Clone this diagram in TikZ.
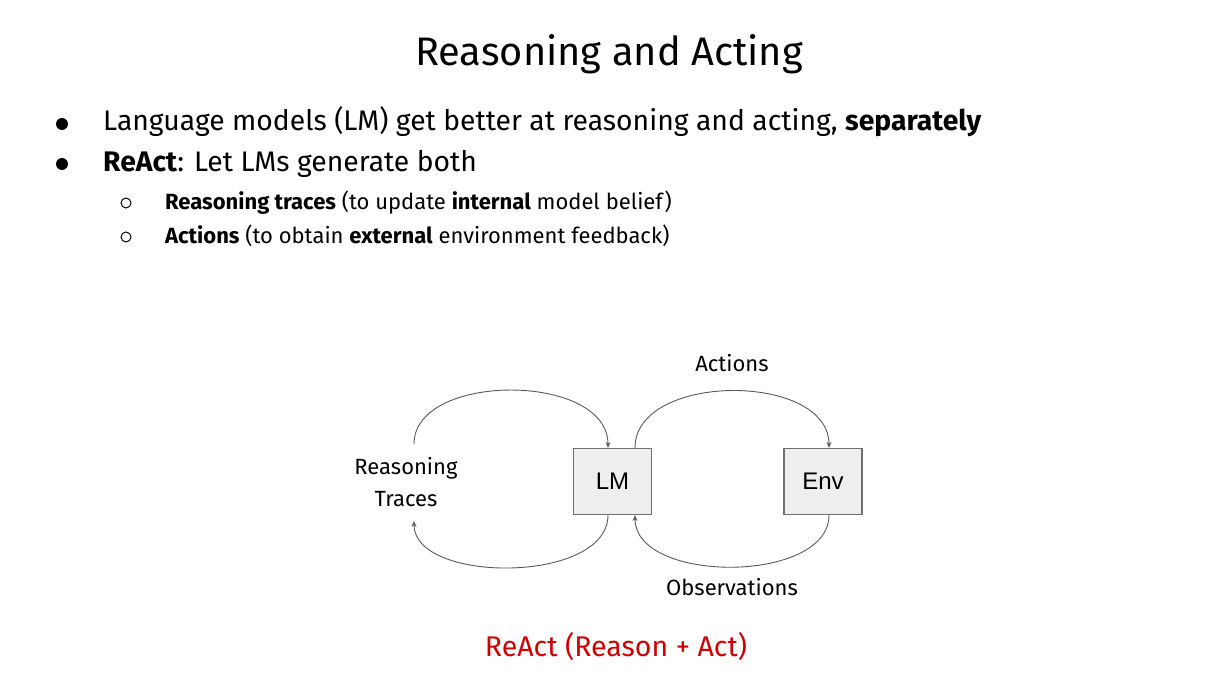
\documentclass[tikz,border=0pt]{standalone}
\usepackage{fontspec}
\setmainfont{Fira Sans}
\newfontfamily\arialf{Liberation Sans}
\usetikzlibrary{arrows.meta}
\definecolor{boxfill}{HTML}{EEEEEE}
\definecolor{boxline}{HTML}{707070}
\definecolor{arrowc}{HTML}{595959}
\definecolor{reactred}{HTML}{CC0000}
\begin{document}
\begin{tikzpicture}[x=1pt,y=-1pt,
  txt/.style={inner sep=0pt,anchor=base west,text=black},
  ctxt/.style={inner sep=0pt,anchor=base,text=black},
  lbl/.style={ctxt,font=\fontsize{22}{26}\selectfont},
  box/.style={draw=boxline,fill=boxfill,line width=1.2pt,minimum width=78pt,minimum height=66pt,inner sep=0pt,font=\arialf\fontsize{24}{28}\selectfont},
  loop/.style={draw=arrowc,line width=0.9pt,-{Stealth[length=6pt,width=5pt]}}]
\useasboundingbox (0,0) rectangle (1231,676);
% title
\node[ctxt,font=\fontsize{39.8}{46}\selectfont] (title) at (609,66) {Reasoning and Acting};
% bullets
\fill (62,124) circle (6pt);
\fill (62,164) circle (6pt);
\draw[line width=1pt] (126,203) circle (5pt);
\draw[line width=1pt] (126,237) circle (5pt);
\node[txt,font=\fontsize{28.3}{34}\selectfont] (b1) at (103,131) {Language models (LM) get better at reasoning and acting, \textbf{separately}};
\node[txt,font=\fontsize{28.3}{34}\selectfont] (b2) at (103,172) {\textbf{ReAct}: Let LMs generate both};
\node[txt,font=\fontsize{22}{26}\selectfont] (s1) at (165,210) {\textbf{Reasoning traces} (to update \textbf{internal} model belief)};
\node[txt,font=\fontsize{22}{26}\selectfont] (s2) at (165,244) {\textbf{Actions} (to obtain \textbf{external} environment feedback)};
% diagram
\node[box] (lm) at (612.5,481.5) {LM};
\node[box] (env) at (823,481.5) {Env};
\coordinate (rt) at (414,444);
\coordinate (rb) at (414,521);
\draw[loop] (rt) .. controls (414,372) and (608,372) .. (lm.north -| 608,0);
\draw[loop] (lm.north -| 635,0) .. controls (635,372) and (829,372) .. (env.north -| 829,0);
\draw[loop] (lm.south -| 608,0) .. controls (608,584) and (414,584) .. (rb);
\draw[loop] (env.south -| 829,0) .. controls (829,584) and (635,584) .. (lm.south -| 635,0);
\node[lbl] (acts) at (732,371) {Actions};
\node[lbl] (obs) at (732,595) {Observations};
\node[lbl] (rea) at (406,474) {Reasoning};
\node[lbl] (tra) at (406,506) {Traces};
\node[ctxt,font=\fontsize{28.5}{33}\selectfont,text=reactred] (cap) at (616,656) {ReAct (Reason + Act)};
\end{tikzpicture}
\end{document}
